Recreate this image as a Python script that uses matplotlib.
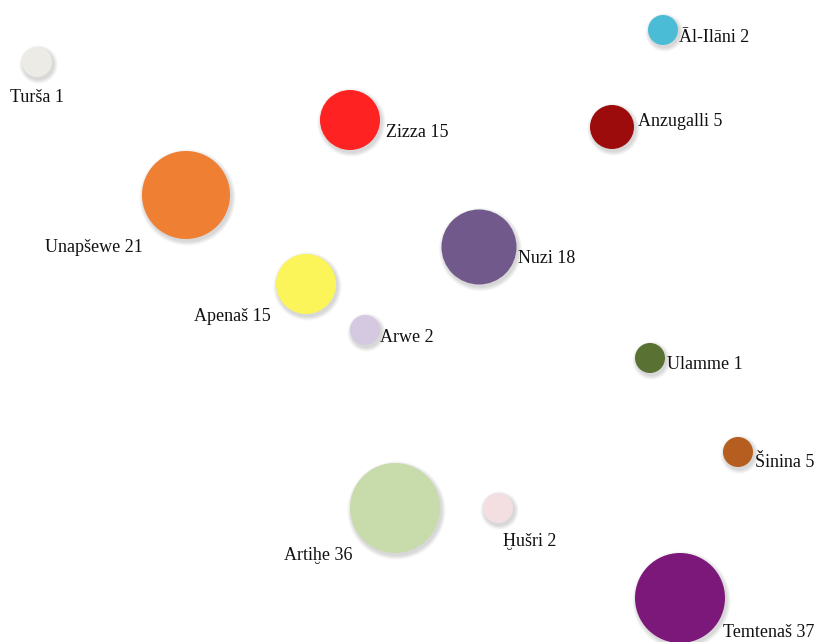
import numpy as np
import matplotlib
matplotlib.use("Agg")
import matplotlib.pyplot as plt
from matplotlib.patches import Circle

# data
names = ["Turša", "Āl-Ilāni", "Zizza", "Anzugalli", "Unapšewe", "Nuzi", "Apenaš",
         "Arwe", "Ulamme", "Šinina", "Artiḫe", "Ḫušri", "Temtenaš"]
values = [1, 2, 15, 5, 21, 18, 15, 2, 1, 5, 36, 2, 37]
colors = ["#ecebe6", "#4bbcd6", "#ff2222", "#9c0c0c", "#ef7f32", "#715a8b", "#fbf55a",
          "#d4c9e0", "#5a7134", "#b55e1f", "#c8dbab", "#f3dfe2", "#7b1879"]

# layout (pixel space of the 816x642 canvas)
cx = [37, 663, 350, 612, 186, 479, 306, 365, 650, 738, 395, 498, 680]
cy = [62, 30, 120, 127, 195, 247, 284, 330, 358, 452, 508, 508, 598]
rad = [15, 15, 30, 22, 44, 37.5, 30, 15, 15, 15, 45, 15, 45]
lx = [10, 679, 386, 638, 143, 518, 271, 380, 667, 755, 353, 503, 723]
ly = [102, 42, 137, 126, 252, 263, 321, 342, 369, 467, 560, 546, 637]
ha = ["left", "left", "left", "left", "right", "left", "right",
      "left", "left", "left", "right", "left", "left"]

W, H = 816, 642
fig = plt.figure(figsize=(W / 100, H / 100), dpi=100)
ax = fig.add_axes([0, 0, 1, 1])
ax.set_xlim(0, W)
ax.set_ylim(H, 0)
ax.set_aspect("equal")
ax.axis("off")

for i in range(len(names)):
    # soft drop shadow
    for k in range(5):
        ax.add_patch(Circle((cx[i] + 1.5, cy[i] + 2.5), rad[i] + 0.5 + k * 0.9,
                            color="black", alpha=0.03, lw=0))
    ax.add_patch(Circle((cx[i], cy[i]), rad[i], color=colors[i], lw=0))
    ax.text(lx[i], ly[i], "{} {}".format(names[i], values[i]), ha=ha[i], va="baseline",
            fontsize=13, color="#111111", family=["Liberation Serif", "DejaVu Serif"])

fig.savefig("out.png", dpi=100, facecolor="white")
